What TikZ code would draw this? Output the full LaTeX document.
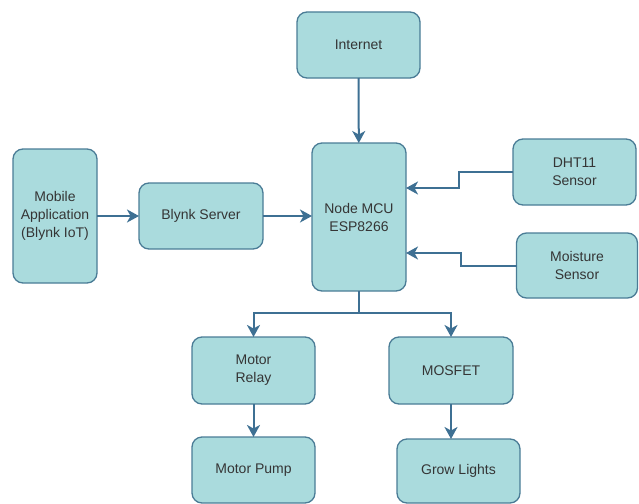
\documentclass[tikz,border=0pt]{standalone}
\usepackage{fontspec}
\setmainfont{Liberation Sans}
\usepackage{tikz}
\usetikzlibrary{shapes,arrows.meta,calc}
\definecolor{boxfill}{HTML}{AADBDD}
\definecolor{boxline}{HTML}{4A7C96}
\definecolor{wire}{HTML}{3E7093}
\definecolor{txt}{HTML}{353535}

\begin{document}
\begin{tikzpicture}[x=1pt, y=-1pt, outer sep=0pt,
    >={Stealth[length=12pt, width=13pt, inset=3.5pt]},
    blk/.style={draw=boxline, fill=boxfill, line width=1.3pt, rounded corners=10pt,
        align=center, text=txt, font=\fontsize{14}{18}\selectfont, inner sep=0pt},
    wirearrow/.style={->, draw=wire, line width=2pt}]

\useasboundingbox (0, 0) rectangle (639, 503);

\node[blk, minimum width=123pt, minimum height=66pt] at (358.5, 45) (inet) {Internet};
\node[blk, minimum width=94pt, minimum height=148pt] at (359, 217) (mcu) {Node MCU\\ESP8266};
\node[blk, minimum width=84pt, minimum height=134pt] at (55, 216) (app) {Mobile\\Application\\(Blynk IoT)};
\node[blk, minimum width=124pt, minimum height=66pt] at (201, 216) (blynk) {Blynk Server};
\node[blk, minimum width=123pt, minimum height=66pt] at (574.5, 172) (dht) {DHT11\\Sensor};
\node[blk, minimum width=121pt, minimum height=65pt] at (577, 265.5) (moist) {Moisture\\Sensor};
\node[blk, minimum width=123pt, minimum height=67pt] at (253.5, 370.5) (relay) {Motor\\Relay};
\node[blk, minimum width=124pt, minimum height=67pt] at (451, 370.5) (mosfet) {MOSFET};
\node[blk, minimum width=123pt, minimum height=66pt] at (253.5, 470) (pump) {Motor Pump};
\node[blk, minimum width=123pt, minimum height=64pt] at (458.5, 471) (grow) {Grow Lights};

    \draw [wirearrow] (inet) -- (mcu);
    \draw [wirearrow] (app) -- (blynk);
    \draw [wirearrow] (blynk) -- (app -| mcu.west);
    \draw [wirearrow] (dht.west) -- ++(-54, 0) |- ($(mcu.east)+(0, -29)$);
    \draw [wirearrow] (moist.west) -- ++(-56, 0) |- ($(mcu.east)+(0, 36)$);

    \draw [wirearrow] (mcu.south) -- ++(0, 22) -| (relay.north);
    \draw [wirearrow] (mcu.south) -- ++(0, 22) -| (mosfet.north);
    \draw [wirearrow] (relay) -- (pump);
    \draw [wirearrow] (mosfet.south) -- (mosfet.south |- grow.north);
\end{tikzpicture}
\end{document}
